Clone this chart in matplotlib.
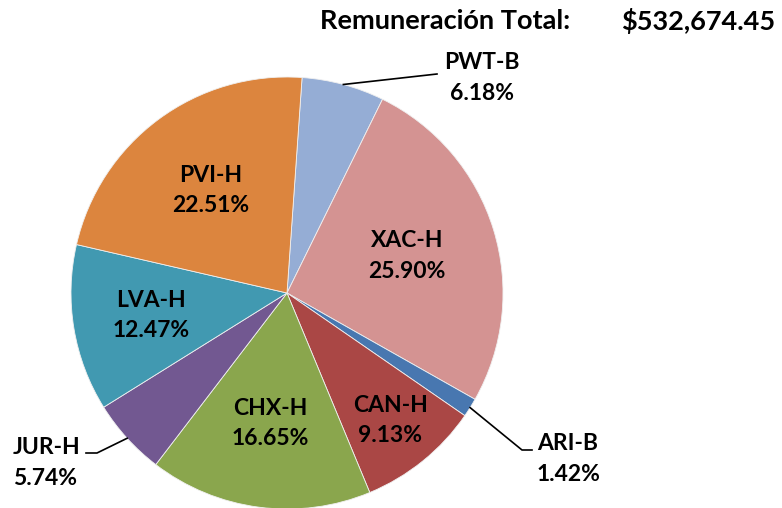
import numpy as np
import matplotlib
matplotlib.use("Agg")
import matplotlib.pyplot as plt

# data
labels = ["PWT-B", "XAC-H", "ARI-B", "CAN-H", "CHX-H", "JUR-H", "LVA-H", "PVI-H"]
shares = [6.18, 25.90, 1.42, 9.13, 16.65, 5.74, 12.47, 22.51]
colors = ["#95ADD5", "#D49392", "#4877B0", "#AA4745", "#8AA64D", "#725891", "#4199B1", "#DC853E"]
title_txt = "Remuneración Total:"
total_txt = "$532,674.45"

# label radius (fraction of R) for inside labels
inside_r = {"XAC-H": 0.58, "CAN-H": 0.76, "CHX-H": 0.61, "LVA-H": 0.64, "PVI-H": 0.59}

W, H = 782, 508
plt.rcParams["font.family"] = ["Lato", "DejaVu Sans"]
fig = plt.figure(figsize=(W / 100, H / 100), dpi=100)
ax = fig.add_axes([0, 0, 1, 1])

cx, cy, R = 287, H - 293, 216
wedges, _ = ax.pie(shares, colors=colors, startangle=86, counterclock=False,
                   center=(cx, cy), radius=R, frame=True,
                   wedgeprops=dict(edgecolor="#f0f0f0", linewidth=0.6))
ax.set_xlim(0, W); ax.set_ylim(0, H)
ax.set_aspect("equal"); ax.axis("off")

fs = 16.5
tk = dict(fontsize=fs, fontweight="bold", linespacing=1.55)
for w, lab, s in zip(wedges, labels, shares):
    txt = f"{lab}\n{s:.2f}%"
    if lab in inside_r:
        a = np.deg2rad((w.theta1 + w.theta2) / 2)
        r = inside_r[lab] * R
        ax.text(cx + r * np.cos(a), cy + r * np.sin(a), txt, ha="center", va="center", **tk)

def pt(x, y):
    return x, H - y

def edge(w, frac=0.5):
    a = np.deg2rad(w.theta1 + (w.theta2 - w.theta1) * frac)
    return cx + R * np.cos(a), cy + R * np.sin(a)

# outside labels with leader lines
wd = dict(zip(labels, wedges))
ex, ey = edge(wd["PWT-B"], 0.5)
ax.plot([ex, pt(437, 74)[0]], [ey, pt(437, 74)[1]], color="black", lw=1.2)
ax.text(*pt(482, 78), "PWT-B\n6.18%", ha="center", va="center", **tk)

ex, ey = edge(wd["ARI-B"], 0.5)
ax.plot([ex, pt(522, 450)[0], pt(532, 450)[0]], [ey, pt(522, 450)[1], pt(532, 450)[1]],
        color="black", lw=1.2)
ax.text(*pt(568, 459), "ARI-B\n1.42%", ha="center", va="center", **tk)

ex, ey = edge(wd["JUR-H"], 0.5)
ax.plot([ex, pt(97, 453)[0], pt(86, 453)[0]], [ey, pt(97, 453)[1], pt(86, 453)[1]],
        color="black", lw=1.2)
ax.text(*pt(13, 463), "JUR-H\n5.74%", ha="left", va="center", **tk)

# header
ax.text(*pt(320, 21), title_txt, ha="left", va="center", fontsize=19.5, fontweight="bold")
ax.text(*pt(775, 21), total_txt, ha="right", va="center", fontsize=19.5, fontweight="bold")

fig.savefig("out.png", dpi=100)
